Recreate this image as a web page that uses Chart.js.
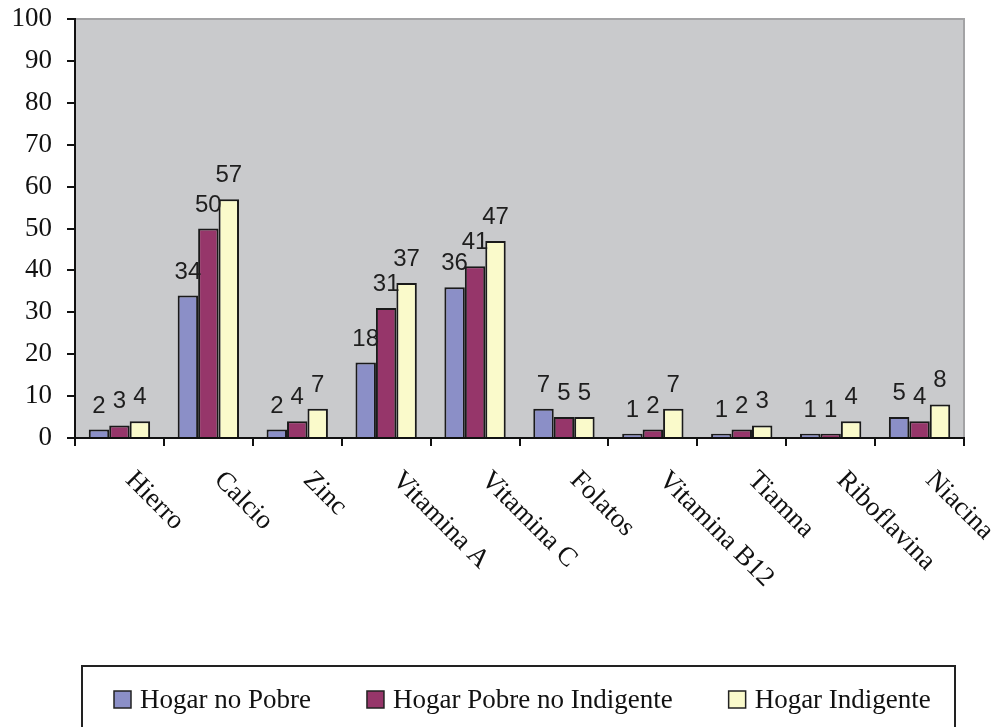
<!DOCTYPE html>
<html>
<head>
<meta charset="utf-8">
<script src="https://cdn.jsdelivr.net/npm/chart.js@4.4.1/dist/chart.umd.min.js"></script>
<style>
  body { margin: 0; background: #fff; }
  #wrap { width: 996px; height: 727px; }
</style>
</head>
<body>
<div id="wrap"><canvas id="myChart" width="996" height="727"></canvas></div>
<script>
//
// data
//
const categories = ['Hierro', 'Calcio', 'Zinc', 'Vitamina A', 'Vitamina C', 'Folatos', 'Vitamina B12', 'Tiamna', 'Riboflavina', 'Niacina'];
const seriesNames = ['Hogar no Pobre', 'Hogar Pobre no Indigente', 'Hogar Indigente'];
const noPobre = [2, 34, 2, 18, 36, 7, 1, 1, 1, 5];
const pobreNoIndigente = [3, 50, 4, 31, 41, 5, 2, 2, 1, 4];
const indigente = [4, 57, 7, 37, 47, 5, 7, 3, 4, 8];
const yTicks = [0, 10, 20, 30, 40, 50, 60, 70, 80, 90, 100];

const colors = ['#8b8fc7', '#96366a', '#fafacb'];
const serif = "'Liberation Serif', 'Times New Roman', serif";
const sans = "'Liberation Sans', Arial, sans-serif";

//
// plugins: plot background, value labels, rotated x labels, boxed legend
//
const plotBg = {
    id: 'plotBg',
    beforeDraw(chart) {
        const { ctx, chartArea: a } = chart;
        ctx.save();
        ctx.fillStyle = '#c9cacc';
        ctx.fillRect(a.left, a.top, a.right - a.left, a.bottom - a.top);
        ctx.strokeStyle = '#a3a3a5';
        ctx.lineWidth = 2;
        ctx.beginPath();
        ctx.moveTo(a.left, a.top);
        ctx.lineTo(a.right, a.top);
        ctx.lineTo(a.right, a.bottom);
        ctx.stroke();
        ctx.restore();
    }
};

const valueLabels = {
    id: 'valueLabels',
    afterDatasetsDraw(chart) {
        const ctx = chart.ctx;
        ctx.save();
        ctx.font = '24px ' + sans;
        ctx.fillStyle = '#1e1e1e';
        ctx.textAlign = 'center';
        ctx.textBaseline = 'alphabetic';
        chart.data.datasets.forEach((ds, i) => {
            chart.getDatasetMeta(i).data.forEach((bar, j) => {
                ctx.fillText(String(ds.data[j]), bar.x, bar.y - 17);
            });
        });
        ctx.restore();
    }
};

const xLabels = {
    id: 'xLabels',
    afterDraw(chart) {
        const ctx = chart.ctx;
        const xs = chart.scales.x;
        ctx.save();
        ctx.font = '27px ' + serif;
        ctx.fillStyle = '#111';
        ctx.textAlign = 'left';
        ctx.textBaseline = 'alphabetic';
        categories.forEach((c, i) => {
            ctx.save();
            ctx.translate(xs.getPixelForValue(i) + 5, 481);
            ctx.rotate(Math.PI / 4);
            ctx.fillText(c, 0, 0);
            ctx.restore();
        });
        ctx.restore();
    }
};

const boxLegend = {
    id: 'boxLegend',
    afterDraw(chart) {
        const ctx = chart.ctx;
        ctx.save();
        ctx.strokeStyle = '#222';
        ctx.lineWidth = 2;
        ctx.strokeRect(82, 666, 873, 80);
        ctx.font = '27px ' + serif;
        ctx.textBaseline = 'alphabetic';
        ctx.textAlign = 'left';
        const gap = 56;
        let x = 114;
        seriesNames.forEach((name, i) => {
            ctx.fillStyle = colors[i];
            ctx.fillRect(x, 691, 17, 17);
            ctx.strokeStyle = '#222';
            ctx.lineWidth = 1.5;
            ctx.strokeRect(x, 691, 17, 17);
            ctx.fillStyle = '#111';
            ctx.fillText(name, x + 26, 708);
            x += 26 + ctx.measureText(name).width + gap;
        });
        ctx.restore();
    }
};

//
// datasets
//
const seriesData = [noPobre, pobreNoIndigente, indigente];
let datasets = [];
for (let i = 0; i < seriesNames.length; i++) {
    datasets[i] = {
        label: seriesNames[i],
        data: seriesData[i],
        backgroundColor: colors[i],
        borderColor: '#1a1a1a',
        borderWidth: 2,
        barPercentage: 1,
        categoryPercentage: 0.69,
    };
}

//
// CHART
//
new Chart(document.getElementById('myChart').getContext('2d'), {
    type: 'bar',
    data: { labels: categories, datasets: datasets },
    plugins: [plotBg, valueLabels, xLabels, boxLegend],
    options: {
        responsive: false,
        animation: false,
        layout: { padding: { left: 0, right: 32, top: 19, bottom: 0 } },
        plugins: {
            legend: { display: false },
            tooltip: { enabled: false },
        },
        scales: {
            x: {
                offset: true,
                ticks: { display: false },
                grid: { drawOnChartArea: false, offset: true, tickLength: 8, color: '#111', lineWidth: 2 },
                border: { color: '#111', width: 2 },
                afterFit(scale) { scale.height = 289; },
            },
            y: {
                min: 0,
                max: 100,
                afterBuildTicks(scale) { scale.ticks = yTicks.map(v => ({ value: v })); },
                ticks: { font: { family: serif, size: 27 }, color: '#111', padding: 15 },
                grid: { drawOnChartArea: false, tickLength: 8, color: '#111', lineWidth: 2 },
                border: { color: '#111', width: 2 },
                afterFit(scale) {
                    scale.width = 75;
                    scale.paddingTop = 0;
                    scale.paddingBottom = 0;
                },
            },
        },
    },
});
</script>
</body>
</html>
